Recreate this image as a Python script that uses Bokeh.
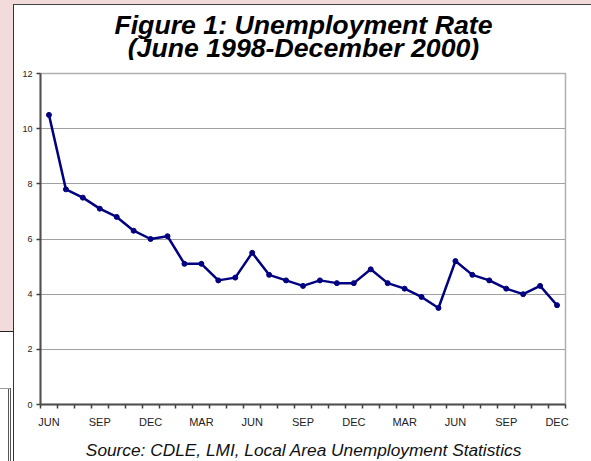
from bokeh.plotting import figure
from bokeh.models import Range1d, FixedTicker
from bokeh.layouts import column
from bokeh.core.properties import value
from bokeh.embed import file_html
from bokeh.resources import INLINE

# ---- data ----
months = ["JUN", "JUL", "AUG", "SEP", "OCT", "NOV", "DEC",
          "JAN", "FEB", "MAR", "APR", "MAY", "JUN", "JUL", "AUG", "SEP", "OCT", "NOV", "DEC",
          "JAN", "FEB", "MAR", "APR", "MAY", "JUN", "JUL", "AUG", "SEP", "OCT", "NOV", "DEC"]
rates = [10.5, 7.8, 7.5, 7.1, 6.8, 6.3, 6.0,
         6.1, 5.1, 5.1, 4.5, 4.6, 5.5, 4.7, 4.5, 4.3, 4.5, 4.4, 4.4,
         4.9, 4.4, 4.2, 3.9, 3.5, 5.2, 4.7, 4.5, 4.2, 4.0, 4.3, 3.6]
y_ticks = [0, 2, 4, 6, 8, 10, 12]
title_lines = ["Figure 1: Unemployment Rate", "(June 1998-December 2000)"]
source_text = "Source: CDLE, LMI, Local Area Unemployment Statistics"

n = len(months)
xs = [i + 0.5 for i in range(n)]
label_every = 3
label_pos = [xs[i] for i in range(0, n, label_every)]
overrides = {xs[i]: months[i] for i in range(0, n, label_every)}

W, H = 591, 461
TOP_H, SRC_H = 60, 30
BL, BR, BT, BB = 40, 26, 13, 27
MAIN_H = H - TOP_H - SRC_H
CX = (BL + (W - BR)) / 2.0
PINK = "#f2dcdb"
FONT = "Liberation Sans"


def text_fig(height):
    f = figure(width=W, height=height, output_backend="svg", toolbar_location=None,
               title=None, x_range=Range1d(0, W), y_range=Range1d(height, 0),
               x_axis_location=None, y_axis_location=None, min_border=0)
    f.grid.grid_line_color = None
    f.outline_line_color = None
    f.background_fill_color = None
    f.border_fill_color = None
    return f


# ---- title ----
pt = text_fig(TOP_H)
pt.text(x=[CX - 6.5, CX - 6.5], y=[24, 47], text=title_lines, text_align="center",
        text_baseline="alphabetic", text_font=value(FONT), text_font_style="bold italic",
        text_font_size=value("26.7px"), text_color="#000000")

# ---- main chart ----
p = figure(width=W, height=MAIN_H, output_backend="svg", toolbar_location=None, title=None,
           x_range=Range1d(0, n), y_range=Range1d(0, 12),
           min_border_left=BL, min_border_right=BR, min_border_top=BT, min_border_bottom=BB)
p.border_fill_color = None
p.background_fill_color = "white"
p.outline_line_color = "#b0b0b0"
p.outline_line_width = 1.5

p.xgrid.grid_line_color = None
p.ygrid.grid_line_color = "#a0a0a0"
p.ygrid.grid_line_width = 1
p.ygrid.ticker = FixedTicker(ticks=y_ticks)

xa = p.xaxis[0]
xa.ticker = FixedTicker(ticks=label_pos, minor_ticks=list(range(n + 1)))
xa.major_label_overrides = overrides
xa.major_tick_out = 0
xa.major_tick_in = 0
xa.minor_tick_out = 4
xa.minor_tick_in = 0
xa.minor_tick_line_color = "#404040"
xa.minor_tick_line_width = 1.5
xa.axis_line_color = "#505050"
xa.axis_line_width = 2
xa.major_label_text_font = FONT
xa.major_label_text_font_size = "11px"
xa.major_label_text_color = "#222222"
xa.major_label_standoff = 7

ya = p.yaxis[0]
ya.ticker = FixedTicker(ticks=y_ticks)
ya.major_tick_out = 4
ya.major_tick_in = 0
ya.minor_tick_line_color = None
ya.major_tick_line_color = "#404040"
ya.major_tick_line_width = 1.5
ya.axis_line_color = "#505050"
ya.axis_line_width = 2
ya.major_label_text_font = FONT
ya.major_label_text_font_size = "9px"
ya.major_label_text_color = "#222222"
ya.major_label_standoff = 4

p.line(xs, rates, line_color="#000080", line_width=2.5)
p.scatter(xs, rates, size=5, fill_color="#000080", line_color="#000080")

# ---- source ----
ps = text_fig(SRC_H)
ps.text(x=[CX - 6], y=[18], text=[source_text], text_align="center",
        text_baseline="alphabetic", text_font=value(FONT), text_font_style="italic",
        text_font_size=value("17.3px"), text_color="#111111")

bg = ", ".join([
    "linear-gradient(#444,#444) 13px 4px / 578px 1px no-repeat",
    "linear-gradient(#333,#333) 13px 4px / 1px 457px no-repeat",
    "linear-gradient(#fff,#fff) 14px 5px / 577px 456px no-repeat",
    "linear-gradient(#222,#222) 0px 331px / 13px 1px no-repeat",
    "linear-gradient(#999,#999) 0px 388px / 10px 1px no-repeat",
    "linear-gradient(#555,#555) 8px 388px / 1px 73px no-repeat",
    "linear-gradient(#555,#555) 10px 388px / 1px 73px no-repeat",
    "linear-gradient(%s,%s) 0px 0px / 100%% 331px no-repeat" % (PINK, PINK),
    "#ffffff",
])

layout = column(pt, p, ps, spacing=0, width=W, height=H,
                styles={"background": bg, "gap": "0px"})

open("out.html", "w").write(file_html(layout, INLINE))
